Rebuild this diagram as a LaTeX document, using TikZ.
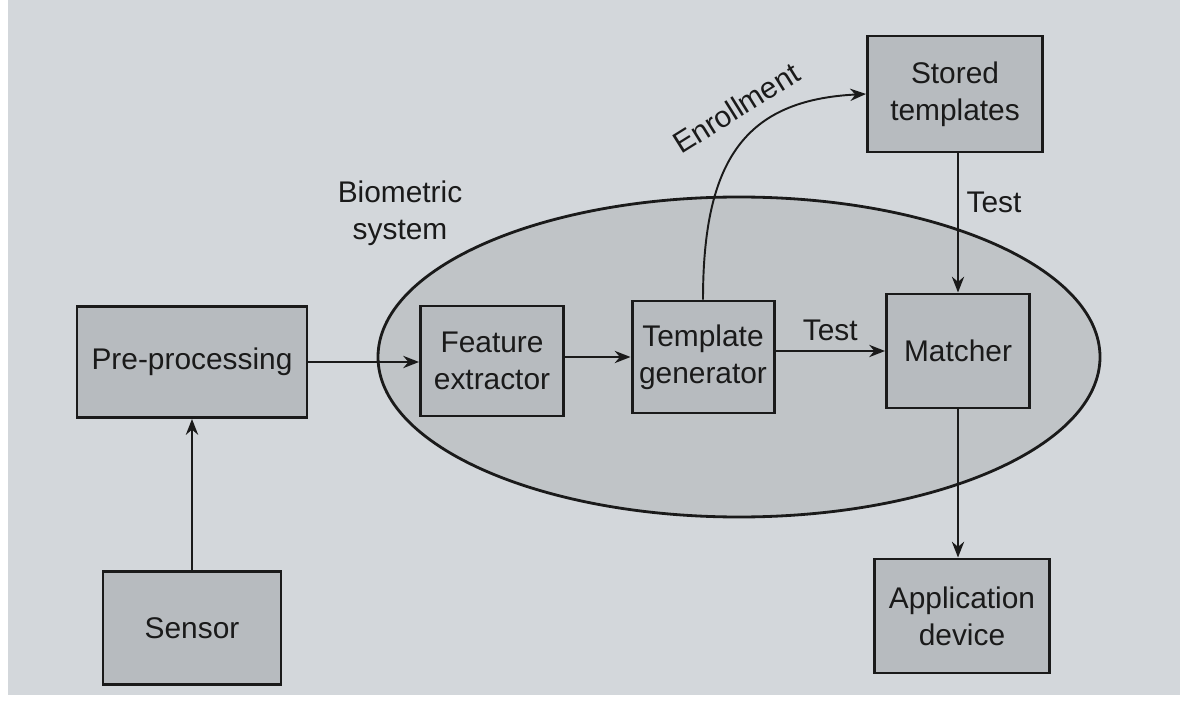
\documentclass[tikz,border=0pt]{standalone}
\usepackage{fontspec}
\setmainfont{Liberation Sans}
\usetikzlibrary{arrows.meta,shapes.geometric}
\definecolor{paper}{HTML}{D3D7DB}
\definecolor{boxfill}{HTML}{B7BBBF}
\definecolor{ellfill}{HTML}{C0C4C7}
\definecolor{ink}{HTML}{1A1A1A}
\tikzset{
  blk/.style={draw=ink, line width=1.7pt, fill=boxfill, inner sep=0pt, align=center,
     font=\fontsize{17}{21}\selectfont, text=ink},
  conn/.style={draw=ink, line width=1.1pt, -{Stealth[length=9pt,width=7pt]}},
  lbl/.style={font=\fontsize{17}{21}\selectfont, text=ink, align=center},
}
\begin{document}
\begin{tikzpicture}[x=0.02cm,y=-0.02cm]
\useasboundingbox (0,0) rectangle (1186,702);
\fill[white] (0,0) rectangle (1186,702);
\fill[paper] (8,0) rectangle (1180,695);
% ellipse
\node[draw=ink, line width=1.6pt, fill=ellfill, ellipse, minimum width=722*0.02cm, minimum height=320*0.02cm, inner sep=0pt] (bio) at (739,357) {};
\node[blk, minimum width=230*0.02cm, minimum height=111*0.02cm] (pre) at (192,362) {Pre-processing};
\node[blk, minimum width=178*0.02cm, minimum height=113*0.02cm] (sen) at (192,628) {Sensor};
\node[blk, minimum width=143*0.02cm, minimum height=110*0.02cm] (fe) at (492,361) {Feature\\extractor};
\node[blk, minimum width=142*0.02cm, minimum height=112*0.02cm] (tg) at (703,357) {Template\\generator};
\node[blk, minimum width=143*0.02cm, minimum height=114*0.02cm] (mat) at (958,351) {Matcher};
\node[blk, minimum width=175*0.02cm, minimum height=116*0.02cm] (st) at (955,94) {Stored\\templates};
\node[blk, minimum width=175*0.02cm, minimum height=114*0.02cm] (app) at (962,616) {Application\\device};
\node[lbl] (biolbl) at (400,213) {Biometric\\system};
% connectors
\draw[conn] (sen.north) -- (pre.south);
\draw[conn] (pre.east) -- (fe.west |- pre.east);
\draw[conn] (fe.east |- tg.west) -- (tg.west);
\draw[conn] (tg.east |- mat.west) -- node[lbl, above=2pt] (t1) {Test} (mat.west);
\draw[conn] (st.south -| mat.north) -- node[lbl, right=1pt, pos=0.35] (t2) {Test} (mat.north);
\draw[conn] (mat.south) -- (app.north -| mat.south);
\draw[conn] (tg.north) .. controls (703,160) and (745,100) .. (st.west);
\node[lbl, rotate=32] (enrl) at (736,108) {Enrollment};
\end{tikzpicture}
\end{document}
